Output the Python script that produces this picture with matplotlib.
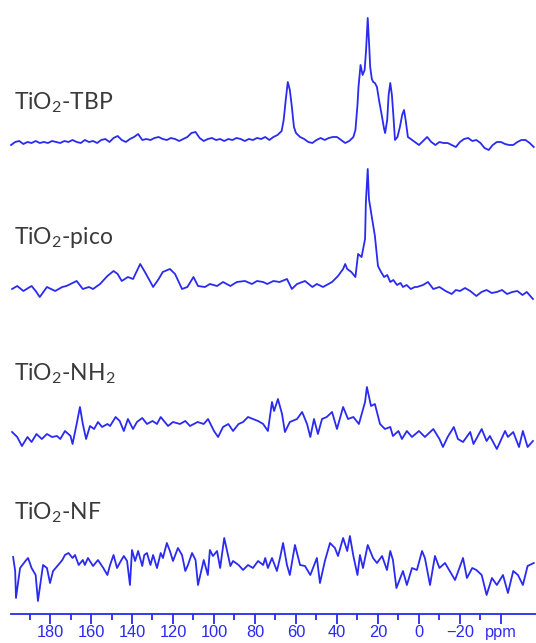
import matplotlib
matplotlib.use("Agg")
import matplotlib.pyplot as plt
from matplotlib.ticker import FixedLocator

# 13C spectra, ppm positions and intensities
tbp_ppm = [199, 197, 195, 193, 191, 189, 187, 185, 183, 181, 179, 177, 175, 173, 171, 169, 167, 165,
           163, 161, 159, 157, 155, 153, 151, 149, 147, 145, 143, 141, 139, 137, 135, 133, 131, 129,
           127, 125, 123, 121, 119, 117, 115, 113, 111, 109, 107, 105, 103, 101, 99, 97, 95, 93, 91,
           89, 87, 85, 83, 81, 79, 77, 75, 73, 71, 69, 67, 66, 65, 64, 63, 62, 61, 60, 58, 56, 54,
           52, 50, 48, 46, 44, 42, 40, 38, 36, 34, 32, 31, 30, 29.5, 28.5, 27.5, 26.5, 25.8, 25,
           24.3, 23.8, 23, 22.3, 21.5, 20.5, 19.5, 18, 17, 16.5, 15.5, 14.8, 14, 13.2, 12.5, 11.7,
           10.5, 9.3, 8.2, 7.3, 6.5, 5.4, 4, 2, 0, -2, -4, -6, -8, -10, -12, -14, -16, -18, -20,
           -22, -24, -26, -28, -30, -32, -34, -36, -38, -40, -42, -44, -46, -48, -50, -52, -54, -56]
tbp_int = [0, 3, 4, 1, 3, 2, 4, 2, 3, 2, 4, 3, 2, 4, 3, 5, 3, 2,
           5, 3, 4, 2, 5, 6, 3, 7, 9, 5, 3, 6, 8, 11, 5, 6, 5, 7,
           8, 6, 5, 7, 6, 4, 6, 8, 12, 13, 7, 4, 6, 7, 5, 6, 4, 6, 5,
           7, 6, 4, 6, 5, 7, 6, 8, 5, 8, 10, 14, 25, 45, 63, 55, 38, 18, 12, 8, 6, 3,
           2, 5, 7, 5, 7, 8, 8, 5, 2, 4, 8, 15, 40, 58, 80, 70, 75, 95, 127,
           100, 78, 66, 63, 62, 58, 45, 28, 16, 12, 25, 50, 62, 50, 30, 5,
           8, 18, 30, 35, 25, 8, 6, 3, 0, 4, 8, 3, 0, 3, 2, 2, 0, -2, 3,
           6, 7, 4, 5, 2, -3, -5, 0, 3, 3, 1, 0, 0, 3, 5, 5, 2, -2]

pico_ppm = [198.5, 196, 193, 189, 187, 185, 181.5, 177.5, 174, 172, 167, 164, 161, 159, 155.6, 152,
            149, 147, 145, 142, 139.5, 136, 133.7, 131, 129.7, 127, 125, 121.5, 119, 115.6, 113,
            110, 107.8, 104.4, 102, 98.5, 95.6, 92, 88.8, 84.9, 81.5, 79, 76, 74, 71, 68, 64.4,
            62, 59.5, 55.6, 52, 49.8, 46.8, 42.4, 39.5, 37, 36, 35, 33, 31, 29.7, 28, 26.3, 25.9,
            25, 24.4, 23, 21.5, 20, 18.5, 17, 15.5, 14, 12.5, 10.7, 9, 7.8, 6, 4, 2, 1, -2, -4.4,
            -7, -10, -13, -16, -18, -20, -22.5, -25, -28, -30.5, -33, -35.5, -38, -40.5, -43,
            -45.5, -48, -50.5, -52.6, -55.6]
pico_int = [5, 8, 3, 8, 3, -3, 7, 3, 7, 8, 13, 5, 7, 5, 10, 18,
            23, 20, 13, 17, 15, 30, 22, 12, 7, 15, 22, 25, 20, 5, 7,
            17, 8, 7, 10, 8, 12, 8, 12, 13, 10, 13, 12, 10, 13, 12, 15,
            5, 10, 13, 7, 10, 7, 12, 18, 25, 30, 25, 22, 17, 40, 37, 55, 92,
            125, 95, 77, 58, 28, 22, 17, 19, 12, 14, 9, 11, 7, 9, 5, 7, 7, 9, 12,
            5, 7, 3, 0, 4, 3, 6, 3, -2, 2, 4, 1, 2, 4, 0, 2, 3, -1, 2, -5]

nh2_ppm = [198.5, 196, 193.7, 191, 189, 186.6, 184, 181.5, 179, 176.6, 175, 172.7, 170, 169, 167,
           165.4, 164, 162.4, 160.5, 158.5, 156.6, 154.6, 152, 150.7, 148, 146, 144, 142, 139.5,
           137.6, 135, 132.7, 130, 127.8, 126, 124, 122.4, 120, 116.6, 114, 111.7, 108, 105,
           102.9, 100, 98, 95.6, 93, 90.7, 88, 85.8, 83.4, 81, 78.5, 76, 73.7, 71.7, 70.7, 68.8,
           66.8, 65.4, 63, 59.5, 57, 54.6, 53, 51.2, 49.3, 47.3, 45, 42.4, 40, 37, 34.6, 32, 29.3,
           26.3, 25.4, 23.4, 21.5, 19, 16.6, 14, 12.7, 10, 8.3, 5.9, 3.4, 0, -2.9, -7, -10, -11.7,
           -14, -17, -19, -21.5, -25, -26.6, -30.6, -33, -34.6, -38, -42, -43.4, -46, -48.8,
           -50.7, -53, -55.6]
nh2_int = [7, 2, -7, 2, -3, 5, 0, 5, 2, 3, 0, 8, 3, -5, 15,
           32, 15, 0, 13, 10, 17, 12, 15, 13, 22, 18, 8, 20, 10,
           17, 21, 15, 18, 15, 22, 17, 13, 17, 15, 18, 13, 17, 15,
           20, 8, 2, 12, 15, 8, 15, 17, 22, 20, 18, 15, 8, 37, 28, 40,
           25, 7, 17, 20, 27, 15, 2, 20, 5, 20, 22, 27, 10, 32, 20, 22, 15,
           37, 52, 33, 35, 15, 10, 12, 3, 8, 0, 8, 2, 8, 2, 10, 0, -8,
           2, 12, 0, -3, 7, -5, 10, -2, 3, -10, 8, 2, 7, -8,
           8, -8, -2]

nf_ppm = [198, 197, 196.6, 194.6, 192, 190.7, 189, 187, 185.9, 183.4, 181.5, 180, 178.5, 176, 174,
          172.7, 171, 169, 167.8, 166, 164, 163, 161.5, 159, 156.6, 154, 152, 150.7, 149, 147.3,
          146, 144, 142.4, 141, 140, 138.5, 137, 135, 134, 132.7, 131, 129.7, 127.8, 126, 124.9,
          123, 121.5, 120, 117.6, 115.6, 114, 112.7, 110.7, 109, 107.8, 105, 103, 102, 100.5,
          98.5, 97, 95, 93.6, 92, 90.7, 88, 85.8, 83.4, 81, 78.5, 76, 75, 73.7, 71.7, 69.3, 67.8,
          66.3, 64.4, 63, 60.5, 58, 55.6, 53, 49.8, 48.3, 45.9, 43.4, 41, 39.5, 37, 35, 33.7, 32,
          30, 28.8, 27.3, 25, 22.4, 20.5, 18, 15.6, 14, 12.7, 11, 7.8, 5.9, 3.4, 1, -1.5, -2.9,
          -5.4, -7.8, -10, -12.7, -15, -17.6, -21.5, -23.4, -26, -28, -30.6, -33, -35.6, -38, -41,
          -43.4, -46, -48.3, -50.7, -53, -56]
nf_int = [6, -8, -35, -5, 2, 5, -5, -12, -38, -2, -5, -20, -8, -2, 3,
          8, 10, 5, 8, -2, 3, -2, 5, -3, 3, -5, -12, -2, 8, -5,
          0, 7, 2, -22, 13, 2, 12, -3, 8, 10, -2, 8, -5, 10, 5,
          20, 12, 2, 15, 8, -8, -2, 10, 3, -22, 3, -12, 13, 7,
          12, -5, 25, 12, -3, 2, -2, -7, -2, -5, 2, -2, 5, -5, 5, -8, 5,
          20, -2, -12, 18, -2, -3, -12, 5, -20, 2, 20, 15, 7, 25, 12, 27, 7,
          -12, 8, -5, 18, 5, 0, 7, -7, 12, 3, -25, -8, -22, -5, -7, 12, 5,
          -22, 7, -5, 0, -8, -17, 5, -15, -5, -7, -12, -32, -15, -22, -12,
          -30, -8, -12, -22, -3, 0]

sample_names = ["TiO$_\\mathregular{2}$-TBP", "TiO$_\\mathregular{2}$-pico",
                "TiO$_\\mathregular{2}$-NH$_\\mathregular{2}$", "TiO$_\\mathregular{2}$-NF"]
major_ticks = [180, 160, 140, 120, 100, 80, 60, 40, 20, 0, -20, -40]
tick_labels = ["180", "160", "140", "120", "100", "80", "60", "40", "20", "0", "\u221220", "ppm"]
minor_ticks = [190, 170, 150, 130, 110, 90, 70, 50, 30, 10, -10, -30]

# layout (vertical offsets of each trace, label heights)
offsets = [469, 320, 175, 51]
label_y = [511, 377, 240, 101]

blue = "#2a2af0"

fig = plt.figure(figsize=(5.36, 6.43), dpi=100)
ax = fig.add_axes([0, 1 - 614 / 643, 1, 614 / 643])

traces = [(tbp_ppm, tbp_int), (pico_ppm, pico_int), (nh2_ppm, nh2_int), (nf_ppm, nf_int)]
for (x, y), off in zip(traces, offsets):
    ax.plot(x, [v + off for v in y], '-', color=blue, linewidth=1.3)

for name, ly in zip(sample_names, label_y):
    ax.text(197.5, ly, name, fontsize=16.5, family="Lato", color="#3a3a3a",
            ha="left", va="center")

ax.set_xlim(204.4, -57.1)
ax.set_ylim(0, 614)
for s in ["top", "left", "right"]:
    ax.spines[s].set_visible(False)
ax.spines["bottom"].set_color(blue)
ax.spines["bottom"].set_linewidth(1.3)
ax.spines["bottom"].set_bounds(-57.1, 199)
ax.set_yticks([])
ax.xaxis.set_major_locator(FixedLocator(major_ticks))
ax.set_xticklabels(tick_labels)
ax.xaxis.set_minor_locator(FixedLocator(minor_ticks))
ax.tick_params(axis="x", which="major", length=7, width=1.3, color=blue,
               labelcolor=blue, labelsize=11.8, pad=1)
ax.tick_params(axis="x", which="minor", length=4, width=1.3, color=blue)
for lab in ax.get_xticklabels():
    lab.set_family("Liberation Sans")

fig.savefig("out.png", dpi=100)
